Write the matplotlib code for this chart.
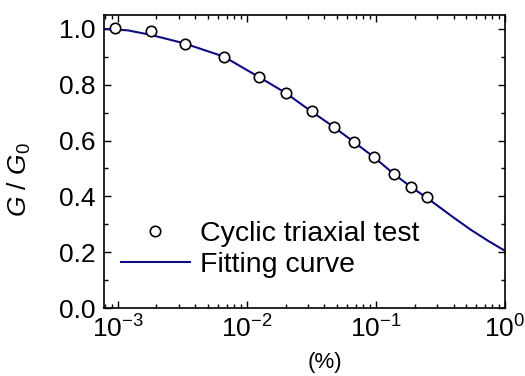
import matplotlib
matplotlib.use("Agg")
import matplotlib.pyplot as plt
from matplotlib.ticker import LogLocator, MultipleLocator, NullFormatter

plt.rcParams['font.family'] = ['Liberation Sans', 'DejaVu Sans']
plt.rcParams['mathtext.fontset'] = 'custom'
plt.rcParams['mathtext.rm'] = 'Liberation Sans'
plt.rcParams['mathtext.it'] = 'Liberation Sans:italic'

# test points (strain in %, G/G0)
strain_test = [0.00095, 0.00182, 0.0033, 0.00667, 0.01245, 0.0203, 0.0318,
               0.0476, 0.0679, 0.096, 0.137, 0.187, 0.248]
ratio_test = [1.002, 0.994, 0.945, 0.901, 0.827, 0.770, 0.706,
              0.650, 0.596, 0.540, 0.481, 0.435, 0.399]

# fitting curve
strain_fit = [0.00079, 0.0012, 0.0018, 0.00325, 0.00664, 0.0124, 0.020, 0.0313,
              0.0472, 0.0675, 0.0964, 0.138, 0.187, 0.26, 0.403, 0.545, 0.738, 1.0]
ratio_fit = [1.0, 0.995, 0.979, 0.949, 0.901, 0.828, 0.771, 0.706,
             0.649, 0.595, 0.541, 0.480, 0.434, 0.388, 0.323, 0.280, 0.241, 0.205]

fig = plt.figure(figsize=(5.25, 3.76), dpi=100)
ax = fig.add_axes([104/525, 1-308/376, 401/525, 293/376])

ax.plot(strain_fit, ratio_fit, color='#0c0c82', lw=1.5, label='Fitting curve', zorder=2)
ax.plot(strain_test, ratio_test, 'o', ms=7.5, mfc='white', mec='black', mew=1.2,
        label='Cyclic triaxial test', zorder=3)

ax.set_xscale('log')
ax.set_xlim(7.85e-4, 1.0)
ax.set_ylim(0, 1.05)
ax.xaxis.set_major_locator(LogLocator(base=10, numticks=10))
ax.xaxis.set_minor_locator(LogLocator(base=10, subs=range(2, 10), numticks=20))
ax.xaxis.set_minor_formatter(NullFormatter())
ax.yaxis.set_major_locator(MultipleLocator(0.2))
ax.yaxis.set_minor_locator(MultipleLocator(0.1))
ax.yaxis.set_major_formatter(plt.FuncFormatter(lambda v, p: f"{v:.1f}"))

ax.tick_params(which='both', direction='in', top=True, right=True, width=1.0, labelsize=19)
ax.tick_params(which='major', length=5)
ax.tick_params(which='minor', length=3)
ax.tick_params(axis='x', pad=5)
ax.tick_params(axis='y', pad=6)
for s in ax.spines.values():
    s.set_linewidth(1.2)

ax.set_ylabel('$G$ / $G_0$', fontsize=19)
ax.yaxis.set_label_coords(-0.177, (308-180)/293)
ax.set_xlabel('(%)', fontsize=16)
ax.xaxis.set_label_coords((325-104)/401, -0.15)

handles, labels = ax.get_legend_handles_labels()
ax.legend(handles[::-1], labels[::-1], loc='upper left', frameon=False, fontsize=20.5,
          bbox_to_anchor=(121/525, 1-221/376), bbox_transform=fig.transFigure,
          borderpad=0, borderaxespad=0, handlelength=2.42, handletextpad=0.35,
          labelspacing=0.16)

fig.savefig('out.png', dpi=100)
